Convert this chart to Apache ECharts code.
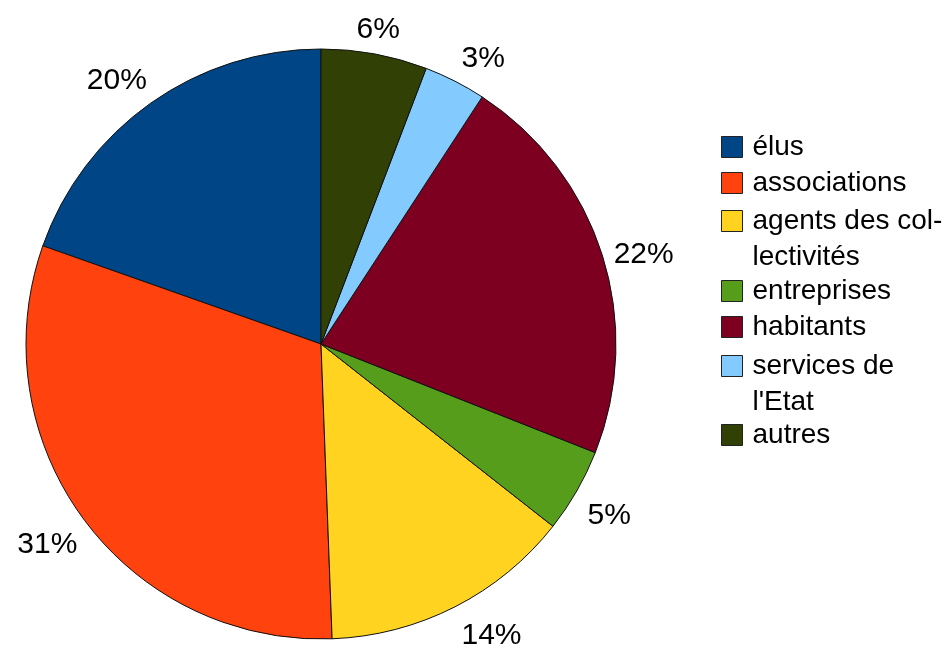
<!DOCTYPE html>
<html>
<head>
<meta charset="utf-8">
<script src="https://cdn.jsdelivr.net/npm/echarts@6/dist/echarts.min.js"></script>
<style>
  html, body { margin: 0; padding: 0; background: #fff; }
  #chart { width: 948px; height: 648px; }
</style>
</head>
<body>
<div id="chart"></div>
<script>
// categories, in drawing order (counter-clockwise from 12 o'clock)
var categories = ['élus', 'associations', 'agents des collectivités', 'entreprises',
                  'habitants', "services de l'Etat", 'autres'];
// shares
var shares = [19.6, 31.0, 13.8, 4.6, 21.8, 3.4, 5.8];
var colors = ['#004586', '#ff420e', '#ffd320', '#579d1c', '#7e0021', '#83caff', '#314004'];

// legend text as it wraps in the original
var legendText = {
    'agents des collectivités': ['agents des col-', 'lectivités'],
    "services de l'Etat": ['services de', "l'Etat"]
};

var CX = 321, CY = 344, R = 295;

var myChart = echarts.init(document.getElementById('chart'));

var pieData = categories.map(function (name, i) {
    return { name: name, value: shares[i], itemStyle: { color: colors[i] } };
});

var legendFont = { fontFamily: 'Liberation Sans', fontSize: 28, color: '#000', lineHeight: 36 };

// one legend block per group; two-line entries get top padding so the
// icon stays level with the first line
function makeLegend(top, names, twoLines) {
    return {
        orient: 'vertical',
        left: 721,
        top: top,
        padding: 0,
        icon: 'rect',
        itemWidth: 21,
        itemHeight: 21,
        itemGap: 0,
        selectedMode: false,
        formatter: function (name) {
            var lines = legendText[name] || [name];
            return lines.map(function (s) { return '{t|' + s + '}'; }).join('\n');
        },
        itemStyle: { borderColor: '#222', borderWidth: 1 },
        textStyle: {
            fontFamily: 'Liberation Sans',
            fontSize: 28,
            color: '#000',
            lineHeight: 36,
            padding: twoLines ? [36, 0, 0, 5] : [0, 0, 0, 5],
            rich: { t: legendFont }
        },
        data: names
    };
}

var option = {
    animation: false,
    backgroundColor: '#fff',
    legend: [
        makeLegend(129, categories.slice(0, 2), false),
        makeLegend(167, categories.slice(2, 3), true),
        makeLegend(273, categories.slice(3, 5), false),
        makeLegend(312, categories.slice(5, 6), true),
        makeLegend(417, categories.slice(6), false)
    ],
    series: [{
        name: 'pie',
        type: 'pie',
        center: [CX, CY],
        radius: R,
        startAngle: 90,
        clockwise: false,
        silent: true,
        labelLine: { show: false },
        itemStyle: { borderColor: '#111', borderWidth: 1 },
        emphasis: { disabled: true },
        label: {
            show: true,
            position: 'inside',
            fontFamily: 'Liberation Sans',
            fontSize: 30,
            color: '#000',
            formatter: function (p) { return Math.round(p.percent) + '%'; }
        },
        // anchor just outside the rim on the slice direction, then hang the
        // label off it by octant (like the office suite does)
        labelLayout: function (p) {
            var r = p.labelRect;
            var x = r.x + r.width / 2, y = r.y + r.height / 2;
            var dx = x - CX, dy = y - CY;
            var len = Math.sqrt(dx * dx + dy * dy) || 1;
            var ux = dx / len, uy = dy / len;
            var ax = CX + ux * (R + 10), ay = CY + uy * (R + 10);
            var sx = Math.abs(ux) > 0.383 ? (ux > 0 ? 1 : -1) : 0;
            var sy = Math.abs(uy) > 0.383 ? (uy > 0 ? 1 : -1) : 0;
            return {
                x: ax + sx * r.width / 2 + 2,
                y: ay + sy * 17 + 3,
                align: 'center',
                verticalAlign: 'middle'
            };
        },
        data: pieData
    }]
};

myChart.setOption(option);
</script>
</body>
</html>
